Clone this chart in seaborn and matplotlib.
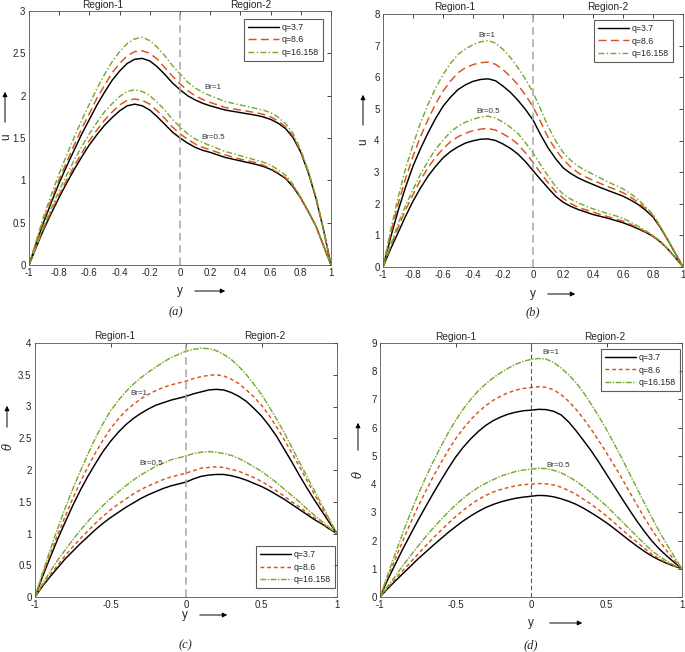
"""Velocity (u) and temperature (theta) profiles across the two-region channel
for three q values and two Brinkman numbers, four panels (a)-(d)."""
import matplotlib
matplotlib.use("Agg")
import matplotlib.pyplot as plt
from matplotlib.patches import FancyArrowPatch
import numpy as np
import seaborn as sns

sns.set_theme(style="white")
plt.rcParams.update({
    "font.family": "sans-serif",
    "font.sans-serif": ["Liberation Sans", "Arial", "DejaVu Sans"],
    "axes.unicode_minus": False,
    "mathtext.fontset": "dejavuserif",
    "axes.edgecolor": "#555555",
    "axes.linewidth": 0.6,
    "xtick.color": "#262626",
    "ytick.color": "#262626",
})

W, H = 685, 652
Q_LABELS = ["q=3.7", "q=8.6", "q=16.158"]
COLORS = ["black", "#D95319", "#77AC30"]

# shared y grid (channel coordinate) for every curve
Y = [-1, -0.95, -0.9, -0.85, -0.8, -0.75, -0.7, -0.65, -0.6, -0.55, -0.5, -0.45, -0.4, -0.35,
     -0.3, -0.25, -0.2, -0.15, -0.1, -0.05, 0, 0.05, 0.1, 0.15, 0.2, 0.25, 0.3, 0.35, 0.4,
     0.45, 0.5, 0.55, 0.6, 0.65, 0.7, 0.75, 0.8, 0.85, 0.9, 0.95, 1]

# ---- panel (a): u ----
A_BR1_Q1 = [0, 0.27, 0.52, 0.75, 0.97, 1.17, 1.36, 1.55, 1.72, 1.89, 2.04, 2.18, 2.29, 2.38,
            2.43, 2.44, 2.41, 2.34, 2.25, 2.15, 2.07, 2.00, 1.95, 1.91, 1.88, 1.855, 1.83,
            1.815, 1.80, 1.785, 1.77, 1.75, 1.72, 1.675, 1.61, 1.50, 1.33, 1.09, 0.79, 0.42, 0]
A_BR1_Q2 = [0, 0.28, 0.55, 0.78, 1.01, 1.22, 1.42, 1.615, 1.79, 1.97, 2.12, 2.27, 2.38, 2.47,
            2.52, 2.53, 2.50, 2.43, 2.33, 2.23, 2.14, 2.06, 2.00, 1.955, 1.92, 1.89, 1.86,
            1.845, 1.83, 1.815, 1.80, 1.78, 1.75, 1.70, 1.63, 1.52, 1.34, 1.10, 0.80, 0.42, 0]
A_BR1_Q3 = [0, 0.30, 0.59, 0.84, 1.08, 1.30, 1.51, 1.715, 1.90, 2.085, 2.25, 2.40, 2.52, 2.615,
            2.67, 2.69, 2.65, 2.57, 2.47, 2.355, 2.26, 2.16, 2.09, 2.04, 2.00, 1.965, 1.93,
            1.91, 1.89, 1.87, 1.85, 1.83, 1.80, 1.745, 1.67, 1.55, 1.36, 1.11, 0.81, 0.43, 0]
A_BR05_Q1 = [0, 0.22, 0.43, 0.62, 0.80, 0.97, 1.13, 1.28, 1.42, 1.54, 1.65, 1.74, 1.82, 1.88,
             1.90, 1.88, 1.83, 1.75, 1.66, 1.57, 1.50, 1.44, 1.39, 1.355, 1.33, 1.30, 1.27,
             1.25, 1.23, 1.21, 1.19, 1.165, 1.13, 1.08, 1.02, 0.92, 0.79, 0.63, 0.46, 0.23, 0]
A_BR05_Q2 = [0, 0.23, 0.45, 0.645, 0.83, 1.005, 1.17, 1.325, 1.47, 1.595, 1.71, 1.805, 1.89,
             1.945, 1.96, 1.945, 1.90, 1.82, 1.73, 1.63, 1.55, 1.485, 1.43, 1.39, 1.36, 1.33,
             1.30, 1.275, 1.25, 1.23, 1.21, 1.18, 1.14, 1.09, 1.03, 0.93, 0.79, 0.63, 0.46, 0.23, 0]
A_BR05_Q3 = [0, 0.24, 0.47, 0.68, 0.88, 1.065, 1.24, 1.40, 1.55, 1.685, 1.81, 1.905, 1.99, 2.05,
             2.07, 2.05, 2.00, 1.92, 1.83, 1.72, 1.63, 1.55, 1.49, 1.445, 1.41, 1.375, 1.34,
             1.315, 1.29, 1.265, 1.24, 1.215, 1.18, 1.125, 1.06, 0.95, 0.80, 0.64, 0.46, 0.23, 0]

# ---- panel (b): u ----
B_BR1_Q1 = [0, 0.92, 1.77, 2.52, 3.19, 3.74, 4.24, 4.69, 5.08, 5.37, 5.61, 5.76, 5.87, 5.93,
            5.95, 5.89, 5.72, 5.52, 5.27, 4.98, 4.65, 4.19, 3.77, 3.43, 3.14, 2.96, 2.82, 2.71,
            2.61, 2.51, 2.42, 2.33, 2.24, 2.12, 1.98, 1.80, 1.58, 1.24, 0.84, 0.42, 0]
B_BR1_Q2 = [0, 1.03, 1.98, 2.79, 3.50, 4.12, 4.66, 5.15, 5.56, 5.88, 6.14, 6.30, 6.40, 6.46,
            6.48, 6.41, 6.24, 6.02, 5.76, 5.43, 5.07, 4.60, 4.10, 3.72, 3.40, 3.17, 2.98, 2.85,
            2.74, 2.64, 2.54, 2.45, 2.35, 2.21, 2.05, 1.85, 1.62, 1.25, 0.85, 0.42, 0]
B_BR1_Q3 = [0, 1.15, 2.19, 3.10, 3.87, 4.55, 5.14, 5.65, 6.08, 6.44, 6.72, 6.90, 7.03, 7.12,
            7.16, 7.08, 6.88, 6.62, 6.30, 5.94, 5.52, 5.00, 4.45, 4.00, 3.63, 3.38, 3.19, 3.05,
            2.93, 2.81, 2.69, 2.58, 2.47, 2.32, 2.14, 1.91, 1.66, 1.27, 0.86, 0.43, 0]
B_BR05_Q1 = [0, 0.56, 1.08, 1.60, 2.08, 2.50, 2.87, 3.18, 3.45, 3.65, 3.80, 3.92, 3.99, 4.04,
             4.05, 4.00, 3.89, 3.75, 3.57, 3.33, 3.05, 2.77, 2.50, 2.24, 2.05, 1.92, 1.82, 1.74,
             1.66, 1.60, 1.54, 1.47, 1.40, 1.31, 1.21, 1.10, 0.97, 0.79, 0.56, 0.29, 0]
B_BR05_Q2 = [0, 0.63, 1.24, 1.80, 2.29, 2.75, 3.14, 3.47, 3.74, 3.96, 4.12, 4.23, 4.31, 4.36,
             4.38, 4.33, 4.21, 4.07, 3.88, 3.61, 3.31, 2.98, 2.67, 2.39, 2.18, 2.01, 1.89, 1.81,
             1.74, 1.66, 1.59, 1.52, 1.45, 1.35, 1.24, 1.12, 0.98, 0.80, 0.56, 0.29, 0]
B_BR05_Q3 = [0, 0.69, 1.35, 1.94, 2.45, 2.93, 3.35, 3.72, 4.01, 4.27, 4.45, 4.58, 4.67, 4.74,
             4.77, 4.71, 4.58, 4.42, 4.22, 3.93, 3.60, 3.24, 2.88, 2.55, 2.31, 2.15, 2.03, 1.93,
             1.84, 1.76, 1.69, 1.62, 1.54, 1.42, 1.29, 1.15, 1.00, 0.81, 0.57, 0.29, 0]

# ---- panel (c): theta ----
C_BR1_Q1 = [0, 0.32, 0.62, 0.91, 1.18, 1.44, 1.68, 1.90, 2.10, 2.29, 2.45, 2.59, 2.71, 2.81,
            2.89, 2.96, 3.02, 3.06, 3.10, 3.13, 3.16, 3.20, 3.23, 3.26, 3.27, 3.26, 3.22, 3.16,
            3.08, 2.97, 2.85, 2.70, 2.53, 2.33, 2.13, 1.92, 1.72, 1.53, 1.35, 1.17, 1.0]
C_BR1_Q2 = [0, 0.35, 0.67, 0.98, 1.27, 1.55, 1.81, 2.05, 2.27, 2.47, 2.65, 2.80, 2.93, 3.03,
            3.12, 3.19, 3.25, 3.30, 3.34, 3.37, 3.40, 3.44, 3.47, 3.49, 3.50, 3.48, 3.43, 3.36,
            3.26, 3.15, 3.02, 2.86, 2.68, 2.48, 2.27, 2.06, 1.84, 1.62, 1.41, 1.20, 1.0]
C_BR1_Q3 = [0, 0.38, 0.74, 1.08, 1.40, 1.70, 1.98, 2.25, 2.50, 2.73, 2.93, 3.09, 3.23, 3.35,
            3.45, 3.54, 3.62, 3.70, 3.77, 3.82, 3.87, 3.90, 3.92, 3.91, 3.88, 3.82, 3.74, 3.63,
            3.50, 3.35, 3.19, 3.00, 2.80, 2.59, 2.36, 2.13, 1.90, 1.68, 1.45, 1.22, 1.0]
C_BR05_Q1 = [0, 0.17, 0.32, 0.46, 0.60, 0.72, 0.84, 0.95, 1.06, 1.16, 1.25, 1.33, 1.41, 1.48,
             1.55, 1.61, 1.66, 1.71, 1.75, 1.78, 1.81, 1.86, 1.90, 1.92, 1.93, 1.93, 1.91, 1.88,
             1.84, 1.79, 1.74, 1.68, 1.61, 1.54, 1.46, 1.38, 1.30, 1.22, 1.15, 1.07, 1.0]
C_BR05_Q2 = [0, 0.18, 0.35, 0.50, 0.65, 0.79, 0.92, 1.04, 1.16, 1.27, 1.37, 1.46, 1.54, 1.62,
             1.69, 1.75, 1.80, 1.85, 1.89, 1.92, 1.95, 1.99, 2.03, 2.04, 2.05, 2.04, 2.01, 1.98,
             1.93, 1.88, 1.82, 1.75, 1.67, 1.59, 1.50, 1.42, 1.33, 1.25, 1.16, 1.08, 1.0]
C_BR05_Q3 = [0, 0.21, 0.40, 0.58, 0.74, 0.90, 1.05, 1.19, 1.32, 1.44, 1.55, 1.65, 1.75, 1.84,
             1.92, 1.99, 2.06, 2.11, 2.16, 2.19, 2.22, 2.26, 2.28, 2.29, 2.28, 2.26, 2.23, 2.18,
             2.12, 2.05, 1.98, 1.89, 1.80, 1.70, 1.60, 1.50, 1.39, 1.29, 1.19, 1.09, 1.0]

# ---- panel (d): theta ----
D_BR1_Q1 = [0, 0.60, 1.15, 1.69, 2.20, 2.70, 3.18, 3.65, 4.10, 4.54, 4.95, 5.30, 5.60, 5.86,
            6.08, 6.25, 6.38, 6.48, 6.55, 6.60, 6.62, 6.65, 6.64, 6.58, 6.45, 6.20, 5.88, 5.53,
            5.17, 4.77, 4.35, 3.93, 3.51, 3.10, 2.70, 2.33, 1.99, 1.70, 1.45, 1.22, 1.0]
D_BR1_Q2 = [0, 0.68, 1.33, 1.98, 2.60, 3.18, 3.72, 4.24, 4.72, 5.18, 5.60, 5.96, 6.28, 6.55,
            6.78, 6.97, 7.12, 7.24, 7.33, 7.39, 7.42, 7.45, 7.43, 7.34, 7.17, 6.93, 6.64, 6.30,
            5.93, 5.53, 5.11, 4.67, 4.22, 3.75, 3.28, 2.82, 2.39, 1.99, 1.63, 1.30, 1.0]
D_BR1_Q3 = [0, 0.77, 1.52, 2.25, 2.95, 3.60, 4.20, 4.77, 5.30, 5.80, 6.25, 6.65, 7.00, 7.30,
            7.55, 7.77, 7.95, 8.11, 8.25, 8.35, 8.42, 8.45, 8.43, 8.31, 8.11, 7.87, 7.58, 7.23,
            6.82, 6.39, 5.93, 5.44, 4.93, 4.40, 3.87, 3.34, 2.81, 2.32, 1.86, 1.42, 1.0]
D_BR05_Q1 = [0, 0.29, 0.56, 0.82, 1.08, 1.34, 1.58, 1.82, 2.05, 2.28, 2.49, 2.69, 2.87, 3.03,
             3.17, 3.28, 3.37, 3.44, 3.50, 3.54, 3.57, 3.60, 3.59, 3.55, 3.48, 3.39, 3.28, 3.14,
             2.98, 2.81, 2.63, 2.43, 2.22, 2.01, 1.81, 1.62, 1.45, 1.31, 1.19, 1.09, 1.0]
D_BR05_Q2 = [0, 0.32, 0.63, 0.93, 1.22, 1.51, 1.80, 2.08, 2.34, 2.60, 2.84, 3.07, 3.27, 3.45,
             3.60, 3.72, 3.81, 3.88, 3.94, 3.98, 4.00, 4.02, 4.01, 3.97, 3.89, 3.77, 3.63, 3.46,
             3.28, 3.08, 2.87, 2.64, 2.40, 2.17, 1.95, 1.73, 1.52, 1.35, 1.21, 1.10, 1.0]
D_BR05_Q3 = [0, 0.37, 0.73, 1.10, 1.45, 1.79, 2.12, 2.43, 2.72, 3.00, 3.26, 3.49, 3.70, 3.88,
             4.03, 4.16, 4.28, 4.37, 4.45, 4.50, 4.53, 4.56, 4.55, 4.49, 4.40, 4.26, 4.10, 3.90,
             3.69, 3.46, 3.22, 2.96, 2.69, 2.42, 2.16, 1.89, 1.64, 1.44, 1.27, 1.12, 1.0]


def fxy(px, py):
    """pixel position in the 685x652 canvas -> figure fraction"""
    return px / W, 1 - py / H


def arrow(fig, p0, p1):
    fig.add_artist(FancyArrowPatch(fxy(*p0), fxy(*p1), transform=fig.transFigure,
                                   arrowstyle="-|>", mutation_scale=7, lw=0.7, color="black"))


LONG_STYLES = ["-", (0, (5.5, 3)), (0, (4, 1.6, 1, 1.6))]
SHORT_STYLES = ["-", (0, (2.6, 2)), (0, (4, 1, 1, 1))]


def draw_panel(fig, rect, br1, br05, styles, ylim, ystep, xstep, ylabel, region_x, region_py,
               br_pos, leg_loc, leg_anchor, vline_kw):
    left, top, right, bottom = rect
    ax = fig.add_axes([left / W, 1 - bottom / H, (right - left) / W, (bottom - top) / H])
    for vals, lab, col, ls in zip(br1, Q_LABELS, COLORS, styles):
        sns.lineplot(x=Y, y=vals, color=col, linestyle=ls, lw=1.05, label=lab, sort=False, ax=ax)
    for vals, col, ls in zip(br05, COLORS, styles):
        sns.lineplot(x=Y, y=vals, color=col, linestyle=ls, lw=1.05, sort=False, ax=ax)
    ax.axvline(0, **vline_kw)
    ax.set_xlim(-1, 1)
    ax.set_ylim(*ylim)
    xt = np.arange(-1, 1 + 1e-9, xstep)
    yt = np.arange(ylim[0], ylim[1] + 1e-9, ystep)
    ax.set_xticks(xt)
    ax.set_xticklabels([f"{v:g}" if abs(v) > 1e-9 else "0" for v in xt])
    ax.set_yticks(yt)
    ax.set_yticklabels([f"{v:g}" for v in yt])
    ax.tick_params(direction="in", top=True, right=True, length=3, width=0.6, labelsize=7, pad=2.5)
    for s in ax.spines.values():
        s.set_visible(True)
    tr = ax.get_xaxis_transform()
    ry = 1 + (top - region_py) / (bottom - top)
    ax.text(region_x[0], ry, "Region-1", transform=tr, ha="center", va="center", fontsize=7.3)
    ax.text(region_x[1], ry, "Region-2", transform=tr, ha="center", va="center", fontsize=7.3)
    ax.text(*br_pos[0], "Br=1", ha="center", va="center", fontsize=5.8, color="#333333")
    ax.text(*br_pos[1], "Br=0.5", ha="center", va="center", fontsize=5.8, color="#333333")
    leg = ax.legend(loc=leg_loc, bbox_to_anchor=leg_anchor, borderaxespad=0, fontsize=6.3,
                    frameon=True, fancybox=False, edgecolor="#333333", handlelength=3.6,
                    handletextpad=0.3, labelspacing=0.4, borderpad=0.45)
    leg.get_frame().set_linewidth(0.8)
    ax.set_xlabel("y", fontsize=8.5)
    ax.set_ylabel(ylabel, fontsize=8.5)
    ax.xaxis.label.set_va("center")
    ax.yaxis.label.set_va("center")
    return ax


fig = plt.figure(figsize=(W / 100, H / 100), dpi=100)

gray_dash = dict(color="#A6A6A6", lw=1.1, linestyle=(0, (5, 3)))

ax = draw_panel(fig, (29, 11, 331, 265), [A_BR1_Q1, A_BR1_Q2, A_BR1_Q3],
                [A_BR05_Q1, A_BR05_Q2, A_BR05_Q3], LONG_STYLES, (0, 3), 0.5, 0.2, "u",
                (-0.51, 0.47), 5, [(0.22, 2.10), (0.22, 1.51)], "upper right", (0.974, 0.969),
                gray_dash)
ax.yaxis.set_label_coords(*fxy(6.5, 137), transform=fig.transFigure)
ax.xaxis.set_label_coords(*fxy(180, 291), transform=fig.transFigure)
arrow(fig, (5, 125), (5, 89))
arrow(fig, (192, 291), (228, 291))
fig.text(*fxy(176, 312), "(a)", family="Liberation Serif", style="italic", fontsize=9, ha="center", va="center")

ax = draw_panel(fig, (383, 14, 683, 267), [B_BR1_Q1, B_BR1_Q2, B_BR1_Q3],
                [B_BR05_Q1, B_BR05_Q2, B_BR05_Q3], LONG_STYLES, (0, 8), 1, 0.2, "u",
                (-0.52, 0.5), 7, [(-0.31, 7.33), (-0.30, 4.93)], "upper right", (0.967, 0.976),
                gray_dash)
ax.yaxis.set_label_coords(*fxy(363, 142), transform=fig.transFigure)
ax.xaxis.set_label_coords(*fxy(533, 294), transform=fig.transFigure)
arrow(fig, (363, 128), (363, 92))
arrow(fig, (545, 294), (578, 294))
fig.text(*fxy(533, 312), "(b)", family="Liberation Serif", style="italic", fontsize=9, ha="center", va="center")

ax = draw_panel(fig, (35, 343, 337, 597), [C_BR1_Q1, C_BR1_Q2, C_BR1_Q3],
                [C_BR05_Q1, C_BR05_Q2, C_BR05_Q3], SHORT_STYLES, (0, 4), 0.5, 0.5, r"$\theta$",
                (-0.47, 0.52), 336, [(-0.31, 3.2), (-0.23, 2.1)], "lower right", (0.993, 0.035),
                gray_dash)
ax.yaxis.set_label_coords(*fxy(8, 447), transform=fig.transFigure)
ax.xaxis.set_label_coords(*fxy(185, 615), transform=fig.transFigure)
arrow(fig, (7, 430), (7, 403))
arrow(fig, (197, 615), (230, 615))
fig.text(*fxy(185, 645), "(c)", family="Liberation Serif", style="italic", fontsize=9, ha="center", va="center")

ax = draw_panel(fig, (380, 343, 682, 597), [D_BR1_Q1, D_BR1_Q2, D_BR1_Q3],
                [D_BR05_Q1, D_BR05_Q2, D_BR05_Q3], SHORT_STYLES, (0, 9), 1, 0.5, r"$\theta$",
                (-0.5, 0.49), 337, [(0.13, 8.66), (0.18, 4.67)], "upper right", (0.993, 0.976),
                dict(color="#555555", lw=0.8, linestyle=(0, (4, 2.5))))
ax.yaxis.set_label_coords(*fxy(358, 475), transform=fig.transFigure)
ax.xaxis.set_label_coords(*fxy(531, 623), transform=fig.transFigure)
arrow(fig, (358, 453), (358, 420))
arrow(fig, (547, 623), (585, 623))
fig.text(*fxy(531, 645), "(d)", family="Liberation Serif", style="italic", fontsize=9, ha="center", va="center")

fig.savefig("out.png", dpi=100)
